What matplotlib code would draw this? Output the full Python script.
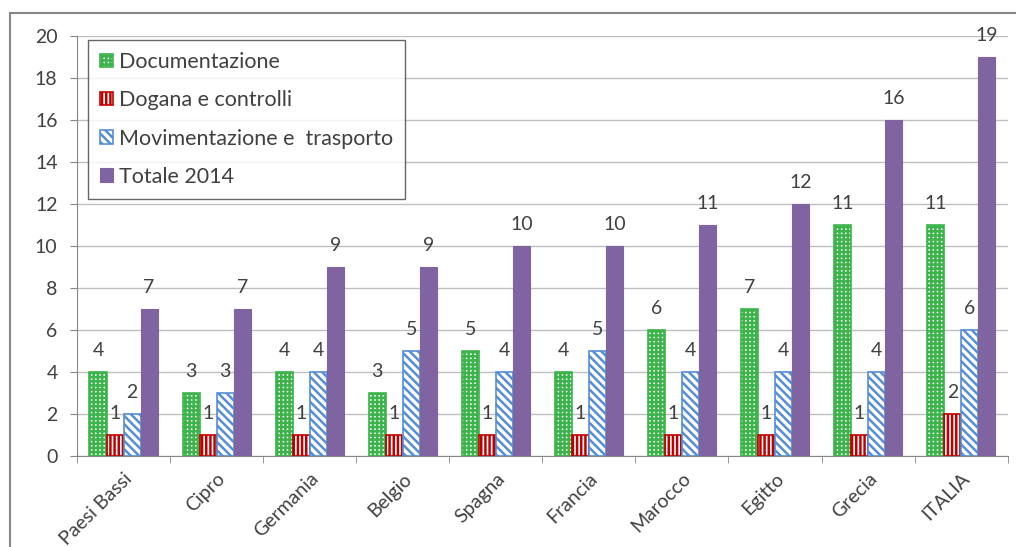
import matplotlib

matplotlib.use("Agg")
import matplotlib.pyplot as plt
import numpy as np
from matplotlib.patches import Rectangle

countries = ["Paesi Bassi", "Cipro", "Germania", "Belgio", "Spagna",
             "Francia", "Marocco", "Egitto", "Grecia", "ITALIA"]
documentazione = [4, 3, 4, 3, 5, 4, 6, 7, 11, 11]
dogana = [1, 1, 1, 1, 1, 1, 1, 1, 1, 2]
movimentazione = [2, 3, 4, 5, 4, 5, 4, 4, 4, 6]
totale = [7, 7, 9, 9, 10, 10, 11, 12, 16, 19]

series = [
    ("Documentazione", documentazione, "#3CB44B", "++++"),
    ("Dogana e controlli", dogana, "#C00000", "||||"),
    ("Movimentazione e  trasporto", movimentazione, "#558ED5", "\\\\\\\\"),
    ("Totale 2014", totale, "#8064A2", None),
]

plt.rcParams["font.family"] = ["Lato", "DejaVu Sans"]
plt.rcParams["hatch.linewidth"] = 1.8
text_color = "#404040"

fig = plt.figure(figsize=(10.16, 5.47), dpi=100)
ax = fig.add_axes([0.0758, 0.1664, 0.916, 0.768])

# outer chart frame
fig.patches.append(Rectangle((10 / 1016, -0.1), 1.2, 1 - 13 / 547 + 0.1,
                             transform=fig.transFigure, fill=False,
                             edgecolor="#868686", linewidth=1.5))

x = np.arange(len(countries))
width = 0.183
for i, (name, vals, color, hatch) in enumerate(series):
    pos = x + (i - 1.5) * width
    if hatch is None:
        bars = ax.bar(pos, vals, width, color=color, edgecolor=color,
                      linewidth=0.8, label=name, zorder=3)
    else:
        bars = ax.bar(pos, vals, width, facecolor="white", edgecolor=color,
                      hatch=hatch, linewidth=1.2, label=name, zorder=3)
    ax.bar_label(bars, padding=9, fontsize=14, color=text_color)

ax.set_xlim(-0.5, len(countries) - 0.5)
ax.set_ylim(0, 20)
ax.set_yticks(np.arange(0, 21, 2))
ax.yaxis.grid(True, color="#BFBFBF", linewidth=1.0, zorder=0)
ax.set_axisbelow(True)

ax.set_xticks(np.arange(-0.5, len(countries), 1), minor=True)
ax.set_xticks(x)
ax.set_xticklabels(countries, rotation=45, ha="right", rotation_mode="anchor",
                   fontsize=14, color=text_color)
ax.tick_params(axis="x", which="major", length=0, pad=10)
ax.tick_params(axis="x", which="minor", length=5, color="#868686")
ax.tick_params(axis="y", length=5, color="#868686", labelsize=14,
               labelcolor=text_color, pad=9)

for side in ["top", "right"]:
    ax.spines[side].set_visible(False)
for side in ["left", "bottom"]:
    ax.spines[side].set_color("#868686")

leg = ax.legend(loc="upper left", bbox_to_anchor=(0.012, 0.99), fontsize=15.5,
                frameon=True, fancybox=False, edgecolor="#404040",
                borderaxespad=0, handlelength=0.6, handleheight=0.6,
                handletextpad=0.3, labelspacing=0.85, borderpad=0.55,
                labelcolor=text_color)
leg.get_frame().set_linewidth(1.0)

fig.savefig("out.png", dpi=100)
plt.close(fig)
